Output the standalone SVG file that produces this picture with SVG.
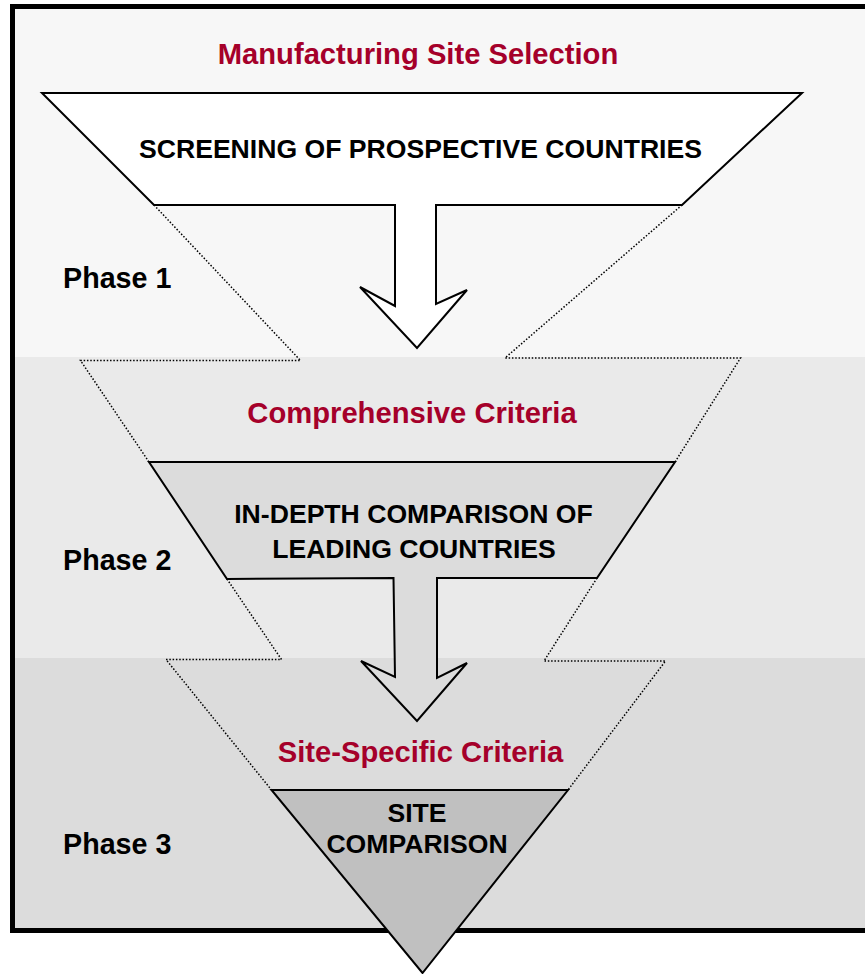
<svg xmlns="http://www.w3.org/2000/svg" width="865" height="974" viewBox="0 0 865 974">
<style>
.red{font-family:"Liberation Sans",Arial,sans-serif;font-weight:bold;font-size:29.2px;fill:#a5002a;text-anchor:middle}
.blk{font-family:"Liberation Sans",Arial,sans-serif;font-weight:bold;font-size:26.6px;fill:#000;text-anchor:middle}
.ph{font-family:"Liberation Sans",Arial,sans-serif;font-weight:bold;font-size:28.7px;fill:#000}
.dot{fill:none;stroke:#000;stroke-width:1.5;stroke-dasharray:1.5 1.8}
.solid{stroke:#000;stroke-width:2;stroke-linejoin:miter}
</style>
<rect x="0" y="0" width="865" height="974" fill="#ffffff"/>
<g id="bands">
<rect x="12" y="6" width="860" height="351" fill="#f7f7f7"/>
<rect x="12" y="357" width="860" height="301" fill="#eaeaea"/>
<rect x="12" y="658" width="860" height="272" fill="#dcdcdc"/>
<rect x="12.5" y="6.5" width="870" height="924" fill="none" stroke="#000" stroke-width="5"/>
</g>
<g id="connectors">
<polyline class="dot" points="154,205 300.5,360.5 80.5,360.5 149,462"/>
<polyline class="dot" points="682,205 505,358 740.5,358 675,462"/>
<polyline class="dot" points="227,579 281.5,659.5 166,659.5 271.5,790"/>
<polyline class="dot" points="597,578 544,661 665.5,661 568,790"/>
</g>
<g id="phase1">
<polygon class="solid" fill="#ffffff" points="42,93 802,93 682,205 436,205 436,304 467,290 417,348 360,287 395,306 395,205 154,205"/>
<text class="blk" x="420.5" y="158">SCREENING OF PROSPECTIVE COUNTRIES</text>
</g>
<g id="phase2">
<polygon class="solid" fill="#dcdcdc" points="149,462 675,462 597,578 437,578 437,678 467,663 417,721 361,661 395,677 393.5,578 227,579"/>
<text class="blk" x="413.5" y="523">IN-DEPTH COMPARISON OF</text>
<text class="blk" x="414" y="558">LEADING COUNTRIES</text>
</g>
<g id="phase3">
<polygon class="solid" fill="#c0c0c0" points="271.5,790 568,790 422.5,973"/>
<text class="blk" x="417" y="822">SITE</text>
<text class="blk" x="417" y="853">COMPARISON</text>
</g>
<g id="labels">
<text class="red" x="418" y="63.5">Manufacturing Site Selection</text>
<text class="red" x="412" y="423">Comprehensive Criteria</text>
<text class="red" x="420.5" y="762">Site-Specific Criteria</text>
<text class="ph" x="63" y="288">Phase 1</text>
<text class="ph" x="63" y="570">Phase 2</text>
<text class="ph" x="63" y="854">Phase 3</text>
</g>
</svg>
